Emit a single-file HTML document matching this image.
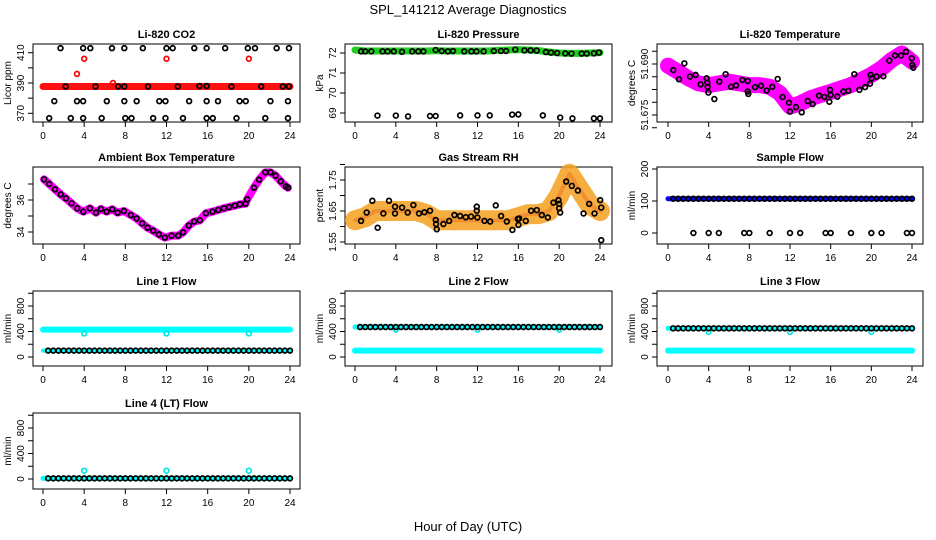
<!DOCTYPE html>
<html><head><meta charset="utf-8">
<style>
html,body{margin:0;padding:0;background:#fff;}
svg{display:block;font-family:"Liberation Sans",sans-serif;}
</style></head>
<body>
<svg id="chart" width="936" height="540" viewBox="0 0 936 540" xmlns="http://www.w3.org/2000/svg">
<text x="468" y="14" text-anchor="middle" font-size="13">SPL_141212  Average Diagnostics</text>
<text x="468" y="531" text-anchor="middle" font-size="13">Hour of Day (UTC)</text>
</svg>
<script>
// ---------- data ----------
const xTicks = [0,4,8,12,16,20,24];
const halfHours = [0.5,1,1.5,2,2.5,3,3.5,4,4.5,5,5.5,6,6.5,7,7.5,8,8.5,9,9.5,10,10.5,11,11.5,12,12.5,13,13.5,14,14.5,15,15.5,16,16.5,17,17.5,18,18.5,19,19.5,20,20.5,21,21.5,22,22.5,23,23.5,24];
const hourly = [0,1,2,3,4,5,6,7,8,9,10,11,12,13,14,15,16,17,18,19,20,21,22,23,24];

// CO2
const co2BandHours = [0,24];
const co2BandVals = [387.7,387.7];
const co2RedOutHours = [3.3,4,12,20,6.8];
const co2RedOutVals = [396,406,406,406,390];
const co2BlkHours = [1.7,3.9,4.6,6.7,7.9,9.7,12,12.6,14.7,15.9,17.7,19.9,20.6,22.7,23.9,
  2.2,5.1,7.3,7.9,10.2,13.1,15.2,15.9,18.3,21.2,23.3,23.9,
  1.1,3.3,3.9,6.2,7.9,9.1,11.3,11.9,14.2,15.9,17.0,19.1,19.7,22.1,23.8,
  0.6,2.7,3.9,5.7,8.0,8.6,10.7,11.9,13.6,15.9,16.5,18.8,21.6,23.8];
const co2BlkVals = [413,413,413,413,413,413,413,413,413,413,413,413,413,413,413,
  387.7,387.7,387.7,387.7,387.7,387.7,388,388,387.7,387.7,387.7,387.7,
  378,378,378,378,378,378,378,378,378,378,378,378,378,378,378,
  366.8,366.8,366.8,366.8,366.8,366.8,366.8,366.8,366.8,366.8,366.8,366.8,366.8,366.8];

// Pressure
const presBand = [72.15,72.1,72.1,72.1,72.1,72.1,72.1,72.1,72.12,72.1,72.1,72.1,72.1,72.1,72.13,72.15,72.17,72.15,72.12,72.05,72.0,71.98,71.98,72.0,72.02];
const presLowHours = [2.2,4.0,5.2,7.35,7.9,10.3,12.0,13.2,15.4,16.0,18.4,20.1,21.3,23.4,24.0];
const presLowVals = [68.87,68.87,68.83,68.85,68.85,68.88,68.88,68.88,68.92,68.93,68.88,68.77,68.73,68.73,68.73];
const presBlkHours = [0.6,1,1.6,2.7,3.2,3.8,4.6,5.6,6.2,6.7,7.9,8.5,9.1,9.6,10.7,11.4,11.9,12.6,13.6,14.3,14.8,15.7,16.6,17.2,17.8,18.7,19.2,19.8,20.6,21.2,22.2,22.7,23.4,23.9];
const presBlkVals = [72.08,72.08,72.08,72.08,72.08,72.08,72.06,72.08,72.08,72.08,72.15,72.1,72.08,72.1,72.08,72.08,72.08,72.08,72.1,72.1,72.1,72.17,72.13,72.13,72.12,72.05,72.02,72.0,71.98,71.97,71.97,71.97,71.98,72.02];

// Li-820 temperature
const tempBand = [51.6895,51.6877,51.6858,51.6843,51.6838,51.6843,51.6848,51.6843,51.6838,51.6838,51.6833,51.6814,51.6775,51.6784,51.6799,51.6809,51.6818,51.6828,51.6838,51.6853,51.6868,51.6887,51.6912,51.6931,51.6907];
const tempBlkHours = [0.52,1.08,1.61,2.16,2.72,3.21,3.80,3.87,3.90,3.97,4.56,5.05,5.67,6.20,6.69,7.31,7.84,7.84,7.90,8.56,9.15,9.70,10.26,10.79,11.28,11.90,12.00,12.59,13.15,13.74,14.23,14.85,15.38,15.87,15.93,16.00,16.66,17.25,17.74,18.33,18.82,19.38,19.87,19.93,20.03,20.52,21.18,21.77,22.33,22.92,23.41,23.97,24.03,24.13];
const tempBlkVals = [51.6882,51.6855,51.6902,51.6863,51.6868,51.6840,51.6858,51.6845,51.6833,51.6816,51.6797,51.6848,51.6870,51.6833,51.6837,51.6853,51.6850,51.6819,51.6812,51.6832,51.6836,51.6822,51.6833,51.6856,51.6803,51.6786,51.6760,51.6773,51.6758,51.6791,51.6782,51.6807,51.6803,51.6789,51.6824,51.6809,51.6804,51.6819,51.6821,51.6870,51.6824,51.6832,51.6842,51.6868,51.6858,51.6863,51.6864,51.6910,51.6925,51.6925,51.6936,51.6917,51.6897,51.6889];

// Ambient box temperature
const ambHours = [0.1,0.61,1.17,1.72,2.23,2.78,3.33,3.92,4.56,5.15,5.63,6.18,6.73,7.25,7.86,8.54,9.09,9.64,10.16,10.71,11.26,11.84,12.49,13.14,13.62,14.17,14.69,15.24,15.83,16.47,17.02,17.57,18.09,18.64,19.13,19.68,19.84,20.5,21.0,21.6,22.1,22.6,23.1,23.6,23.8];
const ambVals = [37.29,37.0,36.67,36.35,36.10,35.79,35.48,35.27,35.48,35.21,35.44,35.27,35.42,35.21,35.31,35.06,34.85,34.54,34.27,34.08,33.85,33.65,33.77,33.77,33.98,34.40,34.65,34.73,35.17,35.27,35.38,35.48,35.56,35.65,35.73,35.77,36.04,36.77,37.27,37.73,37.73,37.52,37.17,36.85,36.77];

// Gas stream RH
const rhBand = [1.62,1.63,1.65,1.65,1.65,1.65,1.65,1.64,1.62,1.62,1.62,1.62,1.62,1.62,1.62,1.62,1.63,1.64,1.64,1.65,1.70,1.77,1.72,1.67,1.65];
const rhBlkHours = [0.59,1.14,1.70,2.22,2.78,3.33,3.92,3.92,4.61,5.16,5.72,6.27,6.80,7.35,7.91,7.94,8.01,8.66,9.22,9.74,10.29,10.85,11.37,11.93,11.93,11.99,12.68,13.24,13.79,14.31,14.87,15.42,15.95,16.08,16.01,16.73,17.25,17.81,18.30,18.89,19.44,19.93,20.0,20.0,20.1,20.69,21.24,21.83,22.39,22.94,23.46,24.02,24.12,24.12];
const rhBlkVals = [1.618,1.645,1.683,1.596,1.642,1.683,1.664,1.642,1.661,1.645,1.669,1.642,1.646,1.651,1.621,1.608,1.591,1.608,1.618,1.637,1.634,1.630,1.632,1.664,1.651,1.629,1.618,1.616,1.668,1.634,1.616,1.589,1.624,1.626,1.605,1.618,1.651,1.653,1.637,1.629,1.677,1.685,1.673,1.659,1.645,1.745,1.731,1.716,1.642,1.673,1.642,1.685,1.661,1.556];

// Sample flow
const sfBand = [107,107];
const sfBlkVals = [107,107,107,107,107,107,107,107,107,107,107,107,107,107,107,107,107,107,107,107,107,107,107,107,107,107,107,107,107,107,107,107,107,107,107,107,107,107,107,107,107,107,107,107,107,107,107,107];
const sfZeroHours = [2.5,4,5,7.5,8,10,12,13,15.5,16,18,20,21,23.5,24];
const sfZeroVals = [0,0,0,0,0,0,0,0,0,0,0,0,0,0,0];

// Line flows
const l1High = [430,430]; const l1Low = [100,100];
const l1Blk = [100,100,100,100,100,100,100,100,100,100,100,100,100,100,100,100,100,100,100,100,100,100,100,100,100,100,100,100,100,100,100,100,100,100,100,100,100,100,100,100,100,100,100,100,100,100,100,100];
const l2High = [470,470]; const l2Low = [100,100];
const l2Blk = [470,470,470,470,470,470,470,470,470,470,470,470,470,470,470,470,470,470,470,470,470,470,470,470,470,470,470,470,470,470,470,470,470,470,470,470,470,470,470,470,470,470,470,470,470,470,470,470];
const l3High = [450,450]; const l3Low = [100,100];
const l3Blk = [450,450,450,450,450,450,450,450,450,450,450,450,450,450,450,450,450,450,450,450,450,450,450,450,450,450,450,450,450,450,450,450,450,450,450,450,450,450,450,450,450,450,450,450,450,450,450,450];
const l4Band = [10,10];
const l4Blk = [10,10,10,10,10,10,10,10,10,10,10,10,10,10,10,10,10,10,10,10,10,10,10,10,10,10,10,10,10,10,10,10,10,10,10,10,10,10,10,10,10,10,10,10,10,10,10,10];
const outHours = [4,12,20];
const l1Out = [370,370,370];
const l2Out = [430,430,430];
const l3Out = [395,395,395];
const l4Out = [130,130,130];

// ---------- drawing ----------
const svg = document.getElementById('chart');
const NS = 'http://www.w3.org/2000/svg';
function mk(tag, attrs, parent){const e=document.createElementNS(NS,tag);for(const k in attrs)e.setAttribute(k,attrs[k]);(parent||svg).appendChild(e);return e;}

const cols = [{bx:33,bw:267,x0:43,x24:290},{bx:345,bw:267,x0:355,x24:600},{bx:657,bw:266,x0:668,x24:912}];
const rows = [{by:44,bh:78},{by:167,bh:77},{by:291,bh:75},{by:413,bh:76}];

function makePanel(name, c, r, title, ylab, v1, p1, v2, p2, yTicks, yLabels){
  const col=cols[c], row=rows[r];
  const g = mk('g',{});
  
  
  const sx = h => col.x0 + h*(col.x24-col.x0)/24;
  const sy = v => p1 + (v-v1)*(p2-p1)/(v2-v1);
  const t = mk('text',{x:col.bx+col.bw/2,y:row.by-6,'text-anchor':'middle','font-size':11,'font-weight':'bold'},g);
  t.textContent = title;
  
  
  const box = mk('rect',{x:col.bx,y:row.by,width:col.bw,height:row.bh,fill:'none',stroke:'#000','stroke-width':1},g);
  
  
  const xa = mk('g',{},g);
  
  
  const yb = row.by+row.bh;
  xTicks.forEach(h=>{
    mk('line',{x1:sx(h),x2:sx(h),y1:yb,y2:yb+5,stroke:'#000'},xa);
    const tl = mk('text',{x:sx(h),y:yb+17,'text-anchor':'middle','font-size':10},xa);
    tl.textContent = h;
  });
  const ya = mk('g',{},g);
  
  
  yTicks.forEach((v,i)=>{
    const y=sy(v);
    mk('line',{x1:col.bx-5,x2:col.bx,y1:y,y2:y,stroke:'#000'},ya);
    if(yLabels[i]){
      const tl = mk('text',{x:col.bx-9,y:y,'text-anchor':'middle','font-size':10,transform:`rotate(-90 ${col.bx-9} ${y})`},ya);
      tl.textContent = yLabels[i];
    }
  });
  const yt = mk('text',{x:col.bx-22,y:row.by+row.bh/2,'text-anchor':'middle','font-size':10,transform:`rotate(-90 ${col.bx-22} ${row.by+row.bh/2})`},g);
  yt.textContent = ylab;
  
  
  const clip = mk('g',{},g);
  
  
  return {g:clip, sx, sy};
}
function band(p, hours, vals, color, width, label, op){
  const pts = hours.map((h,i)=>p.sx(h)+','+p.sy(vals[i])).join(' ');
  const pl = mk('polyline',{points:pts,fill:'none',stroke:color,'stroke-width':width,'stroke-linejoin':'round','stroke-linecap':'round','stroke-opacity':op||1},p.g);
  
  
}
function pts(p, hours, vals, color, label, r){
  hours.forEach((h,i)=>{
    const c = mk('circle',{cx:p.sx(h),cy:p.sy(vals[i]),r:r||2.4,fill:'none',stroke:color,'stroke-width':1.7},p.g);
    
    
  });
}

// CO2
let p = makePanel('co2',0,0,'Li-820 CO2','Licor ppm',410,52.7,370,113.3,[370,380,390,400,410],['370','','390','','410']);
band(p,co2BandHours,co2BandVals,'#ff1010',7,'co2-band');
pts(p,co2RedOutHours,co2RedOutVals,'#ff0000','co2-outlier');
pts(p,co2BlkHours,co2BlkVals,'#000','co2-hourly-point');

// Pressure
p = makePanel('pressure',1,0,'Li-820 Pressure','kPa',72,53,69,113,[69,70,71,72],['69','70','71','72']);
band(p,hourly,presBand,'#22cc22',7,'pressure-band');
pts(p,presBlkHours,presBlkVals,'#000','pressure-hourly-point');
pts(p,presLowHours,presLowVals,'#000','pressure-low-point');

// Li-820 temperature
p = makePanel('li820-temp',2,0,'Li-820 Temperature','degrees C',51.690,64,51.675,115,[51.67125,51.675,51.67875,51.6825,51.68625,51.690,51.69375],['','51.675','','','','51.690','']);
band(p,hourly,tempBand,'#ff00ff',16,'li820-temp-band');
pts(p,tempBlkHours,tempBlkVals,'#000','li820-temp-hourly-point');

// Ambient
p = makePanel('ambient-temp',0,1,'Ambient Box Temperature','degrees C',36,200,34,232,[34,35,36,37],['34','','36','']);
band(p,ambHours,ambVals,'#ff00ff',8,'ambient-temp-band');
pts(p,ambHours,ambVals,'#000','ambient-temp-hourly-point');

// RH
p = makePanel('gas-rh',1,1,'Gas Stream RH','percent',1.75,180,1.55,242,[1.55,1.60,1.65,1.70,1.75,1.80],['1.55','','1.65','','1.75','']);
band(p,hourly,rhBand,'#f4a020',20,'gas-rh-band',0.85);
band(p,hourly,rhBand,'#e85a10',4,'gas-rh-band-core',0.35);
pts(p,rhBlkHours,rhBlkVals,'#000','gas-rh-hourly-point');

// Sample flow
p = makePanel('sample-flow',2,1,'Sample Flow','ml/min',0,233,200,169,[0,100,200],['0','100','200']);
band(p,[0,24],sfBand,'#0000ff',5,'sample-flow-band');
pts(p,halfHours,sfBlkVals,'#000','sample-flow-hourly-point');
pts(p,sfZeroHours,sfZeroVals,'#000','sample-flow-zero-point');

const flowTicks=[0,200,400,600,800,1000], flowLabels=['0','','400','','800',''];
// Line 1
p = makePanel('line1-flow',0,2,'Line 1 Flow','ml/min',0,357,800,306,flowTicks,flowLabels);
band(p,[0,24],l1High,'#00ffff',6,'line1-high-band');
band(p,[0,24],l1Low,'#00ffff',4,'line1-low-band');
pts(p,outHours,l1Out,'#00e5e5','line1-outlier');
pts(p,halfHours,l1Blk,'#000','line1-hourly-point');
// Line 2
p = makePanel('line2-flow',1,2,'Line 2 Flow','ml/min',0,357,800,306,flowTicks,flowLabels);
band(p,[0,24],l2High,'#00ffff',5,'line2-high-band');
band(p,[0,24],l2Low,'#00ffff',6,'line2-low-band');
pts(p,outHours,l2Out,'#00e5e5','line2-outlier');
pts(p,halfHours,l2Blk,'#000','line2-hourly-point');
// Line 3
p = makePanel('line3-flow',2,2,'Line 3 Flow','ml/min',0,357,800,306,flowTicks,flowLabels);
band(p,[0,24],l3High,'#00ffff',5,'line3-high-band');
band(p,[0,24],l3Low,'#00ffff',6,'line3-low-band');
pts(p,outHours,l3Out,'#00e5e5','line3-outlier');
pts(p,halfHours,l3Blk,'#000','line3-hourly-point');
// Line 4
p = makePanel('line4-flow',0,3,'Line 4 (LT) Flow','ml/min',0,479,800,428,flowTicks,flowLabels);
band(p,[0,24],l4Band,'#00ffff',5,'line4-band');
pts(p,outHours,l4Out,'#00e5e5','line4-outlier');
pts(p,halfHours,l4Blk,'#000','line4-hourly-point');
</script>
</body></html>
